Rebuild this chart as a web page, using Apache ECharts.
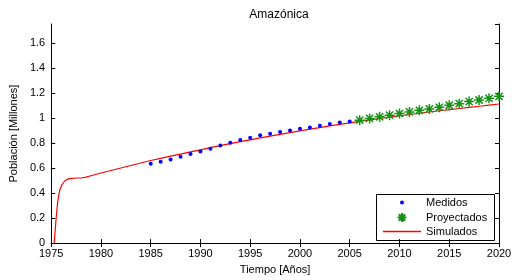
<!DOCTYPE html>
<html>
<head>
<meta charset="utf-8">
<script src="https://cdn.jsdelivr.net/npm/echarts@6/dist/echarts.min.js"></script>
<style>html,body{margin:0;padding:0;background:#fff}#c{width:518px;height:280px}</style>
</head>
<body>
<div id="c"></div>
<script>
var title = 'Amazónica';
var xName = 'Tiempo [Años]';
var yName = 'Población [Millones]';

var medYears = [1985,1986,1987,1988,1989,1990,1991,1992,1993,1994,1995,1996,1997,1998,1999,2000,2001,2002,2003,2004,2005];
var medValues = [0.634,0.650,0.668,0.689,0.712,0.732,0.753,0.779,0.801,0.824,0.842,0.861,0.874,0.887,0.900,0.913,0.923,0.938,0.951,0.964,0.972];

var proYears = [2006,2007,2008,2009,2010,2011,2012,2013,2014,2015,2016,2017,2018,2019,2020];
var proValues = [0.982,0.996,1.009,1.022,1.035,1.048,1.061,1.072,1.085,1.101,1.114,1.130,1.143,1.156,1.172];

var simYears = [1975.3,1975.5,1975.65,1975.85,1976.1,1976.4,1976.8,1977.5,1978.0,1978.5,1979,1980,1981,1982,1983,1984,1985,1986,1987,1988,1989,1990,1991,1992,1993,1994,1995,1996,1997,1998,1999,2000,2001,2002,2003,2004,2005,2006,2007,2008,2009,2010,2011,2012,2013,2014,2015,2016,2017,2018,2019,2020];
var simValues = [0,0.20,0.33,0.42,0.47,0.50,0.515,0.52,0.52,0.527,0.538,0.56,0.58,0.60,0.62,0.64,0.66,0.677,0.694,0.711,0.728,0.745,0.762,0.778,0.794,0.81,0.825,0.84,0.855,0.869,0.883,0.897,0.91,0.923,0.936,0.948,0.96,0.972,0.984,0.995,1.006,1.017,1.027,1.037,1.047,1.057,1.066,1.075,1.084,1.093,1.102,1.111];

function zip(a,b){return a.map(function(v,i){return [v,b[i]];});}

var FONT = 'Liberation Sans';
var star = 'path://M0,-5L0,5M-5,0L5,0M-3.6,-3.6L3.6,3.6M-3.6,3.6L3.6,-3.6';
var GREEN = '#119311';

var chart = echarts.init(document.getElementById('c'));
var axisLine = {show:true, lineStyle:{color:'#000', width:1}};
var tick = {show:true, inside:true, length:4, lineStyle:{color:'#000'}};
var legText = {fontFamily:FONT, fontSize:11, color:'#000'};
chart.setOption({
  animation:false,
  backgroundColor:'#fff',
  textStyle:{fontFamily:FONT},
  title:{text:title, left:274, top:4, textAlign:'center',
    textStyle:{fontFamily:FONT, fontSize:12, fontWeight:'normal', color:'#000'}},
  grid:{left:49, right:19, top:24, bottom:35},
  xAxis:[{type:'value', min:1975, max:2020, interval:5, position:'bottom',
      name:xName, nameLocation:'middle', nameGap:19,
      nameTextStyle:{fontFamily:FONT, fontSize:11, color:'#000'},
      axisLine:axisLine, axisTick:tick, splitLine:{show:false},
      axisLabel:{fontFamily:FONT, fontSize:11, color:'#000', margin:5,
        formatter:function(v){return String(v);}}},
    {type:'value', min:1975, max:2020, interval:5, position:'top',
      axisLine:axisLine, axisTick:tick, splitLine:{show:false}, axisLabel:{show:false}}],
  yAxis:[{type:'value', min:0, max:1.75, interval:0.2, position:'left',
      name:yName, nameLocation:'middle', nameGap:31,
      nameTextStyle:{fontFamily:FONT, fontSize:11, color:'#000'},
      axisLine:axisLine, axisTick:tick, splitLine:{show:false},
      axisLabel:{fontFamily:FONT, fontSize:11, color:'#000', margin:6,
        showMaxLabel:false,
        formatter:function(v){return String(Math.round(v*10)/10);}}},
    {type:'value', min:0, max:1.75, interval:0.2, position:'right',
      axisLine:axisLine, axisTick:tick, splitLine:{show:false}, axisLabel:{show:false}}],
  legend:[
    {data:['Medidos'], orient:'vertical', left:378, top:192, itemWidth:38, itemHeight:5, itemGap:0,
      textStyle:legText},
    {data:['Proyectados'], orient:'vertical', left:378, top:207, itemWidth:38, itemHeight:11, itemGap:0,
      textStyle:legText},
    {data:[{name:'Simulados', icon:'rect'}], orient:'vertical', left:378, top:221, itemWidth:38, itemHeight:1.5, itemGap:0,
      textStyle:legText}
  ],
  graphic:[{type:'rect', left:374, top:192, shape:{width:118, height:46},
    style:{fill:'none', stroke:'#000', lineWidth:1}, z:100}],
  series:[
    {name:'Simulados', type:'line', data:zip(simYears, simValues), showSymbol:false, symbol:'none',
      lineStyle:{color:'#ff0000', width:1.2}, itemStyle:{color:'#ff0000'}, z:2},
    {name:'Medidos', type:'line', data:zip(medYears, medValues), symbol:'circle', symbolSize:4,
      lineStyle:{width:0, opacity:0}, itemStyle:{color:'#0000ff'}, z:3},
    {name:'Proyectados', type:'line', data:zip(proYears, proValues), symbol:star, symbolSize:10,
      lineStyle:{width:0, opacity:0}, itemStyle:{color:GREEN, borderColor:GREEN, borderWidth:1.5}, z:4}
  ]
});
</script>
</body>
</html>
